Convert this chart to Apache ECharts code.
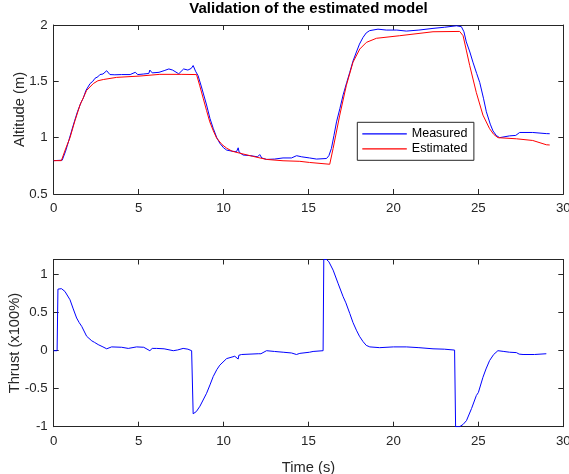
<!DOCTYPE html>
<html>
<head>
<meta charset="utf-8">
<script src="https://cdn.jsdelivr.net/npm/echarts@6/dist/echarts.min.js"></script>
<style>
html,body{margin:0;padding:0;background:#fff;}
#chart{width:569px;height:474px;}
</style>
</head>
<body>
<div id="chart"></div>
<script>
// ---- Data ----
const titleText = 'Validation of the estimated model';
const xTicks = [0, 5, 10, 15, 20, 25, 30];
const altTicks = [0.5, 1, 1.5, 2];
const thrustTicks = [-1, -0.5, 0, 0.5, 1];

const timeMeasured = [0, 0.5, 0.7, 0.9, 1.15, 1.4, 1.6, 1.74, 1.9, 2.14, 2.3, 2.43, 2.6, 2.72, 2.9, 3.0, 3.12, 3.31, 3.6, 4.0, 4.5, 4.8, 4.95, 5.3, 5.6, 5.66, 5.8, 6.2, 6.5, 6.78, 7.0, 7.36, 7.65, 7.9, 8.1, 8.21, 8.35, 8.5, 8.7, 9.0, 9.2, 9.39, 9.6, 9.78, 10.0, 10.18, 10.5, 10.76, 10.86, 10.92, 11.15, 11.6, 12.0, 12.13, 12.25, 12.53, 13.0, 13.5, 14.0, 14.3, 14.6, 15.06, 15.47, 16.06, 16.2, 16.35, 16.5, 16.65, 16.85, 17.04, 17.25, 17.43, 17.62, 17.82, 18.0, 18.21, 18.4, 18.6, 19.09, 19.58, 20.2, 20.76, 21.5, 22.33, 23.0, 23.71, 24.0, 24.15, 24.29, 24.5, 24.68, 24.9, 25.08, 25.3, 25.47, 25.7, 25.86, 26.05, 26.25, 26.84, 27.2, 27.43, 28.2, 29.0, 29.2];
const altMeasured = [0.796, 0.80, 0.88, 0.98, 1.11, 1.23, 1.31, 1.35, 1.42, 1.48, 1.50, 1.527, 1.54, 1.56, 1.565, 1.575, 1.594, 1.56, 1.558, 1.56, 1.56, 1.58, 1.56, 1.565, 1.57, 1.60, 1.575, 1.58, 1.595, 1.61, 1.60, 1.567, 1.61, 1.60, 1.615, 1.64, 1.59, 1.55, 1.45, 1.29, 1.17, 1.083, 1.0, 0.95, 0.91, 0.89, 0.88, 0.875, 0.91, 0.87, 0.846, 0.84, 0.83, 0.85, 0.82, 0.807, 0.81, 0.82, 0.82, 0.84, 0.83, 0.82, 0.81, 0.815, 0.84, 0.905, 1.02, 1.14, 1.26, 1.38, 1.49, 1.58, 1.68, 1.76, 1.83, 1.89, 1.93, 1.95, 1.963, 1.955, 1.955, 1.946, 1.955, 1.97, 1.98, 1.993, 1.985, 1.94, 1.85, 1.76, 1.67, 1.57, 1.49, 1.35, 1.23, 1.12, 1.06, 1.02, 1.0, 1.016, 1.02, 1.046, 1.046, 1.036, 1.035];

const timeEstimated = [0, 0.45, 0.7, 0.96, 1.25, 1.55, 1.94, 2.33, 2.6, 2.92, 3.7, 5.08, 6.25, 7.5, 8.41, 8.6, 8.8, 9.0, 9.19, 9.4, 9.59, 9.9, 10.18, 10.5, 10.96, 11.7, 12.53, 13.5, 14.49, 15.06, 16.25, 16.45, 16.84, 17.23, 17.62, 18.02, 18.41, 19.0, 20.37, 22.33, 23.9, 24.1, 24.3, 24.49, 24.88, 25.27, 25.66, 25.9, 26.15, 27.24, 28.2, 29.0, 29.2];
const altEstimated = [0.796, 0.796, 0.9, 1.0, 1.15, 1.29, 1.42, 1.48, 1.505, 1.516, 1.535, 1.547, 1.562, 1.562, 1.56, 1.46, 1.35, 1.24, 1.14, 1.06, 0.997, 0.94, 0.907, 0.88, 0.862, 0.835, 0.807, 0.795, 0.79, 0.78, 0.764, 0.905, 1.2, 1.465, 1.67, 1.787, 1.846, 1.882, 1.905, 1.94, 1.943, 1.905, 1.77, 1.64, 1.40, 1.2, 1.08, 1.03, 1.0, 0.99, 0.975, 0.937, 0.935];

const timeThrust = [0, 0.2, 0.25, 0.46, 0.66, 0.96, 1.15, 1.35, 1.5, 1.65, 1.94, 2.24, 2.4, 2.62, 2.9, 3.12, 3.41, 4.0, 4.39, 4.88, 5.3, 5.66, 5.8, 6.06, 6.5, 7.04, 7.3, 7.62, 7.9, 8.12, 8.21, 8.4, 8.61, 9.0, 9.2, 9.39, 9.6, 9.78, 10.18, 10.66, 10.86, 10.9, 11.06, 12.04, 12.13, 12.2, 12.53, 13.0, 13.51, 14.0, 14.29, 14.49, 15.06, 15.27, 15.86, 15.9, 16.06, 16.2, 16.45, 16.75, 17.04, 17.2, 17.43, 17.62, 17.82, 18.0, 18.21, 18.4, 18.61, 19.19, 20.0, 20.76, 21.5, 22.33, 23.0, 23.6, 23.66, 23.9, 24.1, 24.3, 24.6, 24.88, 25.0, 25.27, 25.45, 25.66, 25.9, 26.15, 26.5, 26.84, 27.24, 27.4, 27.63, 28.3, 29.0];
const thrust = [0, 0, 0.81, 0.816, 0.78, 0.67, 0.55, 0.43, 0.37, 0.32, 0.19, 0.13, 0.11, 0.08, 0.05, 0.025, 0.05, 0.045, 0.03, 0.05, 0.045, 0.0, 0.03, 0.03, 0.025, 0.0, 0.01, 0.03, 0.02, 0.0, -0.83, -0.8, -0.73, -0.56, -0.45, -0.34, -0.25, -0.19, -0.104, -0.073, -0.11, -0.06, -0.05, -0.04, -0.065, -0.04, 0.0, -0.01, -0.02, -0.03, -0.05, -0.035, -0.02, -0.01, 0.0, 1.2, 1.2, 1.17, 1.06, 0.88, 0.71, 0.63, 0.49, 0.37, 0.27, 0.19, 0.12, 0.07, 0.05, 0.04, 0.05, 0.05, 0.04, 0.025, 0.02, 0.008, -1.0, -1.0, -0.97, -0.92, -0.76, -0.59, -0.55, -0.35, -0.24, -0.13, -0.05, 0.0, -0.01, -0.02, -0.025, -0.045, -0.05, -0.05, -0.04];

const zip = (xs, ys) => xs.map((x, i) => [x, ys[i]]);

// ---- Styling ----
const FONT = 'Liberation Sans, Arial, Helvetica, sans-serif';
const AX = '#262626';
const tickFont = 13.3;
const labelFont = 14.7;

function xAx(grid, pos, showLabel, name) {
  return {
    type: 'value', gridIndex: grid, position: pos,
    min: xTicks[0], max: xTicks[xTicks.length - 1], interval: xTicks[1] - xTicks[0],
    axisLine: { show: true, onZero: false, lineStyle: { color: AX, width: 1 } },
    axisTick: { show: true, inside: true, length: 5, lineStyle: { color: AX } },
    axisLabel: { show: showLabel, color: AX, fontSize: tickFont, fontFamily: FONT, margin: 8 },
    splitLine: { show: false },
    name: name || '', nameLocation: 'middle', nameGap: 34, nameMoveOverlap: false,
    nameTextStyle: { color: AX, fontSize: labelFont, fontFamily: FONT }
  };
}
function yAx(grid, pos, ticks, showLabel, name, maxV, gap) {
  return {
    type: 'value', gridIndex: grid, position: pos,
    min: ticks[0], max: maxV, interval: ticks[1] - ticks[0],
    axisLine: { show: true, onZero: false, lineStyle: { color: AX, width: 1 } },
    axisTick: { show: true, inside: true, length: 5, lineStyle: { color: AX } },
    axisLabel: { show: showLabel, color: AX, fontSize: tickFont, fontFamily: FONT, margin: 6,
      showMaxLabel: maxV === ticks[ticks.length - 1] },
    splitLine: { show: false },
    name: name || '', nameLocation: 'middle', nameGap: gap || 26, nameRotate: 90, nameMoveOverlap: false,
    nameTextStyle: { color: AX, fontSize: labelFont, fontFamily: FONT }
  };
}

const chart = echarts.init(document.getElementById('chart'), null, { renderer: 'canvas' });
chart.setOption({
  animation: false,
  backgroundColor: '#ffffff',
  title: {
    text: titleText, left: 308.5, top: 1, textAlign: 'center', padding: 0,
    textStyle: { fontSize: 15, fontWeight: 'bold', color: '#000', fontFamily: FONT }
  },
  legend: {
    data: ['Measured', 'Estimated'],
    orient: 'vertical', left: 357.3, top: 122.3,
    padding: [4, 6.5, 4, 5], itemGap: 0,
    itemWidth: 44.5, itemHeight: 1.3, icon: 'rect',
    borderColor: AX, borderWidth: 1, backgroundColor: '#fff', borderRadius: 0,
    textStyle: { fontSize: 12.5, fontFamily: FONT, color: '#000', lineHeight: 15 }
  },
  grid: [
    { left: 53.7, right: 5.7, top: 25, height: 169, outerBoundsMode: 'none', containLabel: false },
    { left: 53.7, right: 5.7, top: 259.5, height: 167.2, outerBoundsMode: 'none', containLabel: false }
  ],
  xAxis: [
    xAx(0, 'bottom', true),
    xAx(0, 'top', false),
    xAx(1, 'bottom', true, 'Time (s)'),
    xAx(1, 'top', false)
  ],
  yAxis: [
    yAx(0, 'left', altTicks, true, 'Altitude (m)', altTicks[altTicks.length - 1], 26),
    yAx(0, 'right', altTicks, false, '', altTicks[altTicks.length - 1]),
    yAx(1, 'left', thrustTicks, true, 'Thrust (x100%)', 1.2, 31),
    yAx(1, 'right', thrustTicks, false, '', 1.2)
  ],
  series: [
    { name: 'Measured', type: 'line', xAxisIndex: 0, yAxisIndex: 0, data: zip(timeMeasured, altMeasured),
      symbol: 'none', showSymbol: false, clip: true, color: '#0000ff',
      lineStyle: { color: '#0000ff', width: 1 }, itemStyle: { color: '#0000ff' } },
    { name: 'Estimated', type: 'line', xAxisIndex: 0, yAxisIndex: 0, data: zip(timeEstimated, altEstimated),
      symbol: 'none', showSymbol: false, clip: true, color: '#ff0000',
      lineStyle: { color: '#ff0000', width: 1 }, itemStyle: { color: '#ff0000' } },
    { name: 'Thrust', type: 'line', xAxisIndex: 2, yAxisIndex: 2, data: zip(timeThrust, thrust),
      symbol: 'none', showSymbol: false, clip: true, color: '#0000ff',
      lineStyle: { color: '#0000ff', width: 1 }, itemStyle: { color: '#0000ff' } }
  ]
});
</script>
</body>
</html>
